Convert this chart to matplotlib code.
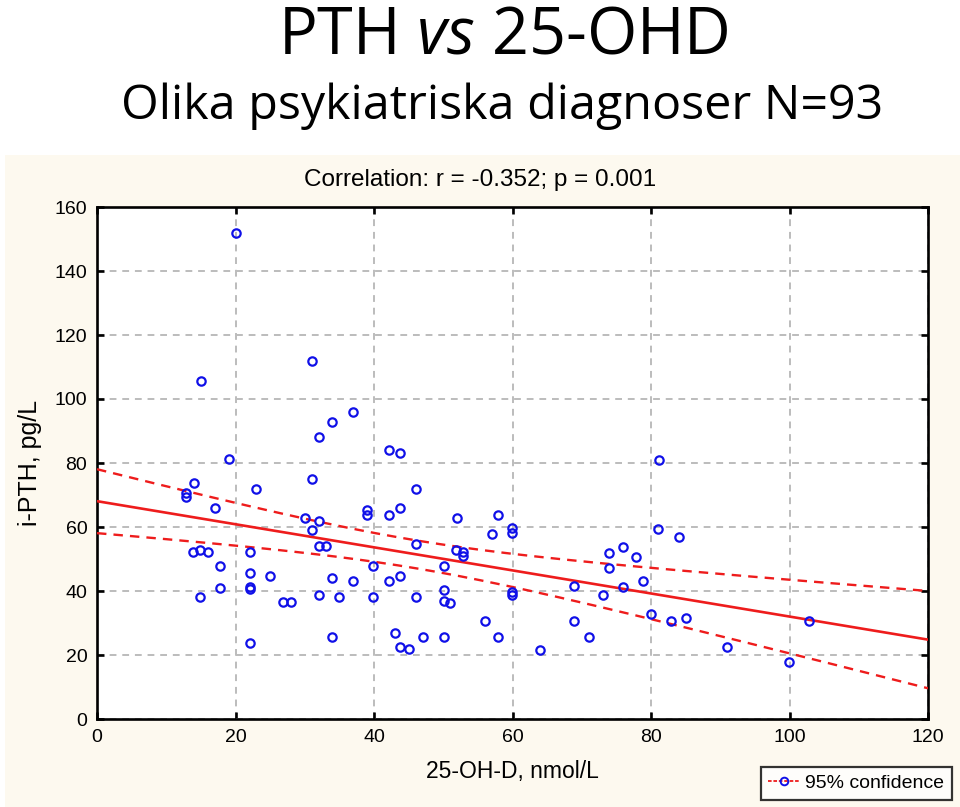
import numpy as np
import matplotlib
matplotlib.use("Agg")
import matplotlib.pyplot as plt
from matplotlib.lines import Line2D
from matplotlib import font_manager

# 25-OH-D (nmol/L) and i-PTH (pg/L)
vitd = [20.0, 15.0, 31.1, 37.0, 34.0, 32.0, 19.0, 42.1, 43.8, 81.1,
        31.0, 14.0, 12.9, 12.9, 22.9, 46.0, 17.1, 39.0, 39.0, 42.1,
        43.8, 30.0, 32.0, 52.0, 57.9, 57.1, 59.9, 59.9, 81.0, 84.0,
        31.0, 32.0, 33.1, 13.9, 14.9, 16.1, 22.1, 46.0, 51.9, 52.9,
        52.9, 73.9, 76.0, 77.8, 73.9, 50.1, 39.9, 17.8, 22.1, 25.0,
        33.9, 42.1, 43.8, 37.0, 78.9, 76.0, 68.9, 17.8, 22.1, 22.1,
        14.9, 32.0, 34.9, 39.9, 46.0, 50.1, 50.1, 51.0, 59.9, 59.9,
        73.0, 26.8, 28.0, 80.0, 82.9, 85.0, 102.8, 56.0, 68.9, 71.0,
        34.0, 43.0, 47.1, 50.1, 57.9, 22.1, 43.8, 45.0, 64.0, 91.0,
        99.9]
pth = [152.0, 105.7, 111.9, 96.0, 92.9, 88.0, 81.3, 84.1, 83.2, 80.9,
       75.0, 73.9, 70.6, 69.4, 71.8, 71.9, 65.9, 65.3, 63.9, 63.8,
       65.8, 62.7, 62.0, 62.7, 63.8, 57.8, 59.6, 58.0, 59.5, 57.0,
       59.0, 54.0, 54.1, 52.2, 52.8, 52.2, 52.2, 54.6, 52.8, 52.3,
       51.0, 52.0, 53.8, 50.7, 47.2, 47.9, 47.9, 47.8, 45.7, 44.7,
       44.1, 43.0, 44.7, 43.0, 43.0, 41.4, 41.6, 40.9, 41.4, 40.6,
       38.1, 38.7, 38.0, 38.0, 38.0, 40.2, 37.0, 36.3, 39.8, 38.6,
       38.8, 36.7, 36.7, 32.8, 30.6, 31.7, 30.6, 30.7, 30.7, 25.7,
       25.7, 26.8, 25.7, 25.7, 25.7, 23.6, 22.6, 21.8, 21.7, 22.4,
       17.8]

x_ticks = [0, 20, 40, 60, 80, 100, 120]
y_ticks = [0, 20, 40, 60, 80, 100, 120, 140, 160]

title = "PTH $\\mathit{vs}$ 25-OHD"
subtitle = "Olika psykiatriska diagnoser N=93"
corr_text = "Correlation: r = -0.352; p = 0.001"

# chart font: narrow Arial-like if available
names = {f.name for f in font_manager.fontManager.ttflist}
chart_font = "Liberation Sans Narrow" if "Liberation Sans Narrow" in names else "Liberation Sans"

plt.rcParams["mathtext.fontset"] = "custom"
plt.rcParams["mathtext.rm"] = "Open Sans"
plt.rcParams["mathtext.it"] = "Open Sans:italic"

fig = plt.figure(figsize=(9.6, 8.07), dpi=100)
fig.patch.set_facecolor("white")

# cream panel behind the statistica chart
panel = plt.Rectangle((5 / 960, 0), 1, 1 - 155 / 807, transform=fig.transFigure,
                      facecolor="#fdf9ef", edgecolor="none", zorder=-10)
fig.patches.append(panel)

fig.text(0.524, 1 - 53 / 807, title, ha="center", va="baseline",
         fontsize=46.5, family="Open Sans")
fig.text(0.523, 1 - 119 / 807, subtitle, ha="center", va="baseline",
         fontsize=34.8, family="Open Sans")

ax = fig.add_axes([97 / 960, 1 - 719 / 807, (928 - 97) / 960, (719 - 207) / 807])
ax.set_facecolor("white")

x = np.array(vitd)
y = np.array(pth)
n = len(x)
slope, icpt = np.polyfit(x, y, 1)
xs = np.linspace(0, 120, 200)
fit = icpt + slope * xs
resid = y - (icpt + slope * x)
s = np.sqrt(np.sum(resid ** 2) / (n - 2))
sxx = np.sum((x - x.mean()) ** 2)
t = 1.986  # t(0.975, df~90)
half = t * s * np.sqrt(1 / n + (xs - x.mean()) ** 2 / sxx)

ax.plot(xs, fit, color="#ee1c1c", lw=1.9, zorder=3)
ax.plot(xs, fit + half, color="#ee1c1c", lw=1.7, ls=(0, (4, 3)), zorder=3)
ax.plot(xs, fit - half, color="#ee1c1c", lw=1.7, ls=(0, (4, 3)), zorder=3)

ax.plot(x, y, ls="none", marker="o", ms=6, mfc="none", mec="#1010e8",
        mew=1.6, zorder=4)

ax.set_xlim(0, 120)
ax.set_ylim(0, 160)
ax.set_xticks(x_ticks)
ax.set_yticks(y_ticks)
ax.grid(True, color="#bcbcbc", ls=(0, (3.5, 3)), lw=1.4)
ax.set_axisbelow(True)
for sp in ax.spines.values():
    sp.set_linewidth(1.9)
    sp.set_color("black")
ax.tick_params(direction="in", length=5, width=1.9, top=True, right=True,
               labelsize=14, pad=7)
for lab in ax.get_xticklabels() + ax.get_yticklabels():
    lab.set_family(chart_font)

fig.text(480 / 960, 1 - 180 / 807, corr_text, ha="center", va="center",
         fontsize=17.5, family=chart_font)
ax.set_xlabel("25-OH-D, nmol/L", fontsize=16.5, family=chart_font, labelpad=10)
ax.set_ylabel("i-PTH, pg/L", fontsize=18, family=chart_font, labelpad=9)

handle = Line2D([], [], color="#ee1c1c", ls=(0, (2, 1)), lw=1.3, marker="o",
                ms=5.5, mfc="none", mec="#1010e8", mew=1.4)
leg = fig.legend([handle], ["95% confidence"], loc="lower right",
                 bbox_to_anchor=(952 / 960, 1 - 800 / 807),
                 prop={"family": chart_font, "size": 14},
                 frameon=True, fancybox=False, handlelength=1.6,
                 handletextpad=0.3, borderpad=0.4, borderaxespad=0)
leg.get_frame().set_edgecolor("black")
leg.get_frame().set_linewidth(1.6)

fig.savefig("out.png", dpi=100, facecolor=fig.get_facecolor())
